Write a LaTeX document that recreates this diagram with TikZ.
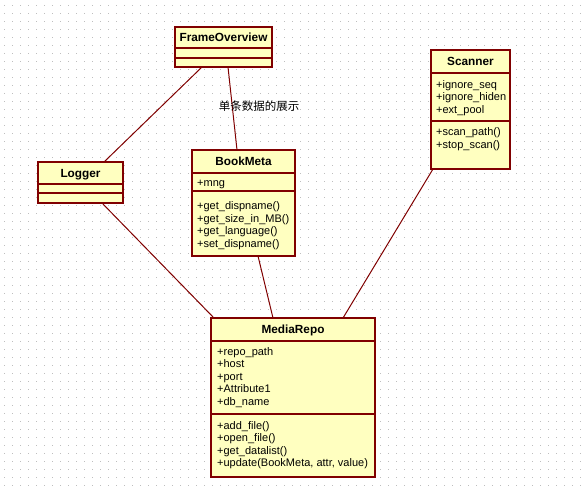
\documentclass[tikz,border=0pt]{standalone}
\usepackage{fontspec}
\setmainfont{Liberation Sans}
\newfontfamily\cjkfont{Noto Sans CJK SC}
\usetikzlibrary{calc}
\definecolor{umlborder}{HTML}{800000}
\definecolor{umlfill}{HTML}{FFFFC0}
\definecolor{gridc}{HTML}{BEBEBE}
\begin{document}
\begin{tikzpicture}[x=1pt,y=-1pt,
  cls/.style={draw=umlborder, fill=umlfill, line width=1.5pt, inner sep=0pt, outer sep=0pt},
  sep/.style={draw=umlborder, line width=1.5pt},
  conn/.style={draw=umlborder, line width=1pt},
  cname/.style={anchor=base, inner sep=0pt, font=\fontsize{11.8}{13}\selectfont\bfseries},
  item/.style={anchor=base west, inner sep=0pt, font=\fontsize{11}{13}\selectfont},
  lbl/.style={inner sep=0pt, font=\cjkfont\fontsize{11.5}{13}\selectfont}]
\useasboundingbox[fill=white] (0,0) rectangle (583,488);
% dotted grid
\foreach \i in {0,...,72}{
  \foreach \j in {0,...,60}{
    \fill[gridc] (4+8*\i,5+8*\j) rectangle ++(1,1);
  }
}
% class boxes
\node[cls, minimum width=97pt, minimum height=40pt] (fo) at (223.5,47) {};
\node[cls, minimum width=79pt, minimum height=119pt] (sc) at (470.5,109.5) {};
\node[cls, minimum width=85pt, minimum height=41pt] (lg) at (80.5,182.5) {};
\node[cls, minimum width=103pt, minimum height=106pt] (bm) at (243.5,203) {};
\node[cls, minimum width=164pt, minimum height=159pt] (mr) at (293,397.5) {};

% connectors
\draw[conn] ($(fo.south west)+(27,0)$) -- ($(lg.north west)+(66,0)$);
\draw[conn] ($(fo.south west)+(53,0)$) -- ($(bm.north west)+(45,0)$);
\draw[conn] ($(lg.south west)+(64,0)$) -- ($(mr.north west)+(3,0)$);
\draw[conn] ($(bm.south west)+(66,0)$) -- ($(mr.north west)+(62,0)$);
\draw[conn] ($(sc.south west)+(2,0)$) -- ($(mr.north west)+(132,0)$);

% FrameOverview
\draw[sep] (175,48) -- (272,48);
\draw[sep] (175,58) -- (272,58);
\node[cname] (fon) at (223.5,41.5) {FrameOverview};

% Scanner
\draw[sep] (431,73) -- (510,73);
\draw[sep] (431,121) -- (510,121);
\node[cname] (scn) at (470.5,65.5) {Scanner};
\node[item] (sc1) at (436,88) {+ignore\_seq};
\node[item] (sc2) at (436,100.5) {+ignore\_hiden};
\node[item] (sc3) at (436,113) {+ext\_pool};
\node[item] (sc4) at (436,135.5) {+scan\_path()};
\node[item] (sc5) at (436,148) {+stop\_scan()};

% Logger
\draw[sep] (38,184) -- (123,184);
\draw[sep] (38,193) -- (123,193);
\node[cname] (lgn) at (80.5,177) {Logger};

% BookMeta
\draw[sep] (192,173) -- (295,173);
\draw[sep] (192,191) -- (295,191);
\node[cname] (bmn) at (243.5,165.5) {BookMeta};
\node[item] (bm1) at (197,186.5) {+mng};
\node[item] (bm2) at (197,209.5) {+get\_dispname()};
\node[item] (bm3) at (197,222) {+get\_size\_in\_MB()};
\node[item] (bm4) at (197,234.5) {+get\_language()};
\node[item] (bm5) at (197,247) {+set\_dispname()};

% MediaRepo
\draw[sep] (211,341) -- (375,341);
\draw[sep] (211,414) -- (375,414);
\node[cname] (mrn) at (293,333.5) {MediaRepo};
\node[item] (mr1) at (217,355) {+repo\_path};
\node[item] (mr2) at (217,367.5) {+host};
\node[item] (mr3) at (217,380) {+port};
\node[item] (mr4) at (217,392.5) {+Attribute1};
\node[item] (mr5) at (217,405) {+db\_name};
\node[item] (mr6) at (217,429) {+add\_file()};
\node[item] (mr7) at (217,441.5) {+open\_file()};
\node[item] (mr8) at (217,454) {+get\_datalist()};
\node[item] (mr9) at (217,466.5) {+update(BookMeta, attr, value)};

% label
\node[lbl] (lab) at (259,106.5) {单条数据的展示};
\end{tikzpicture}
\end{document}
